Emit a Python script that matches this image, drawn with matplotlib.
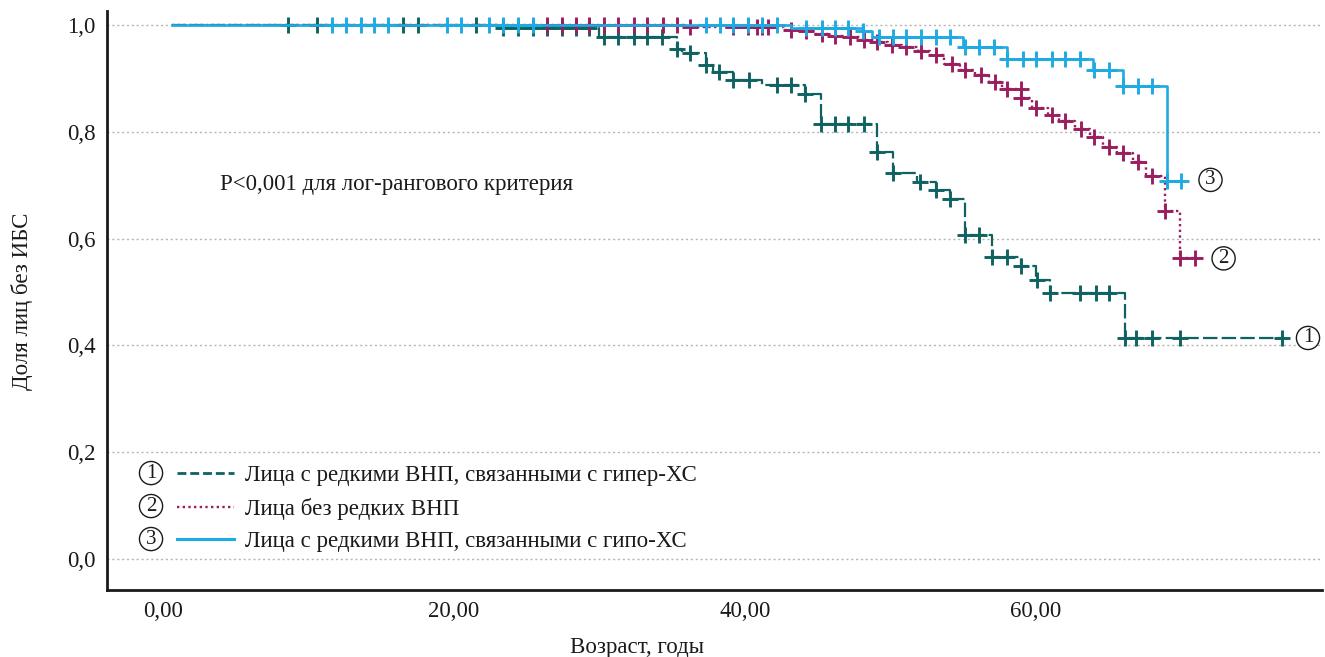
import numpy as np
import matplotlib
matplotlib.use('Agg')
import matplotlib.pyplot as plt
from matplotlib.ticker import FixedLocator, FuncFormatter
from matplotlib.lines import Line2D

plt.rcParams['font.family'] = ['Liberation Serif', 'DejaVu Serif']

# ---------------- data ----------------
x_ticks = [0, 20, 40, 60]
y_ticks = [0.0, 0.2, 0.4, 0.6, 0.8, 1.0]

t_start = 0.6

labels = ["Лица с редкими ВНП, связанными с гипер-ХС",
          "Лица без редких ВНП",
          "Лица с редкими ВНП, связанными с гипо-ХС"]
annotation = "P<0,001 для лог-рангового критерия"
x_label = "Возраст, годы"
y_label = "Доля лиц без ИБС"

# 1: hyper-XC (green, dashed)
hyper_step_t = [23.0, 30.0, 35.3, 35.7, 37.3, 37.8, 39.2, 41.2, 44.1, 45.2,
                49.1, 50.2, 51.8, 53.1, 54.1, 55.1, 57.0, 59.0, 60.0, 61.0, 66.1]
hyper_step_s = [0.994, 0.978, 0.956, 0.947, 0.925, 0.912, 0.897, 0.888, 0.870, 0.814,
                0.763, 0.722, 0.706, 0.691, 0.675, 0.607, 0.566, 0.548, 0.522, 0.499, 0.413]
hyper_cens_t = [8.6, 10.6, 16.5, 17.5, 21.5, 23.4, 24.4, 25.4, 26.4, 27.4, 28.4, 29.3,
                30.3, 31.3, 32.4, 33.3, 34.3, 35.3, 36.2, 37.3, 38.2, 39.2, 40.3, 42.2,
                43.2, 44.1, 45.2, 46.2, 47.1, 48.2, 49.1, 50.2, 52.0, 53.1, 54.1, 55.1,
                56.1, 57.0, 58.0, 59.0, 60.1, 61.0, 63.0, 64.1, 65.0, 66.1, 66.9, 68.0,
                69.9, 76.9]
hyper_end = 77.0

# 2: no rare variants (purple, dotted)
none_step_t = [35.9, 42.7, 43.8, 44.8, 45.8, 46.9, 47.9, 48.9, 49.8, 50.8, 51.9, 52.7,
               53.7, 54.8, 55.8, 56.8, 57.7, 58.97, 59.7, 60.8, 61.6, 62.7, 63.7, 64.6,
               65.6, 66.7, 67.6, 68.9, 69.9]
none_step_s = [0.997, 0.991, 0.988, 0.983, 0.979, 0.977, 0.972, 0.969, 0.963, 0.958,
               0.952, 0.944, 0.927, 0.916, 0.906, 0.894, 0.881, 0.864, 0.844, 0.832,
               0.820, 0.806, 0.791, 0.772, 0.761, 0.744, 0.718, 0.652, 0.563]
none_cens_t = [26.4, 27.4, 28.4, 29.3, 30.3, 31.3, 32.4, 33.3, 34.4, 35.3,
               36.2, 39.2, 40.2, 40.8, 41.2, 41.6, 43.2, 44.2, 45.3, 46.2, 47.2, 48.2,
               49.1, 50.1, 51.1, 52.1, 53.1, 54.2, 55.1, 56.2, 57.2, 58.0, 58.95, 59.0,
               60.0, 61.1, 62.0, 63.1, 64.0, 65.0, 66.0, 67.0, 68.0, 68.9, 69.9, 70.9]
none_end = 70.9

# 3: hypo-XC (blue, solid)
hypo_step_t = [43.2, 48.1, 48.7, 55.0, 58.0, 63.9, 66.0, 69.0]
hypo_step_s = [0.994, 0.988, 0.978, 0.958, 0.936, 0.916, 0.886, 0.708]
hypo_cens_t = [11.6, 12.6, 13.6, 14.5, 15.5, 19.5, 20.5, 22.4, 23.4, 24.4, 25.4,
               37.3, 38.3, 39.2, 40.2, 41.2, 42.2, 44.2, 45.3, 46.2, 47.1, 48.1,
               49.2, 50.2, 51.1, 52.1, 53.1, 54.1, 55.1, 56.1, 57.1, 58.0, 59.1,
               60.0, 61.1, 62.0, 63.0, 64.0, 65.0, 66.0, 67.0, 68.0, 69.0, 70.0]
hypo_end = 70.0

# end-of-curve label positions (data coords)
end_label_t = [78.7, 72.9, 72.0]
end_label_s = [0.414, 0.563, 0.710]

# ---------------- styles ----------------
c_green = '#0e6361'
c_purple = '#9b1f5e'
c_blue = '#1eaae2'
c_text = '#1a1a1a'
fs = 16.5


def curve(step_t, step_s, end):
    t = np.r_[t_start, step_t, end]
    s = np.r_[1.0, step_s, step_s[-1]]
    return t, s


def cens_s(step_t, step_s, cens):
    idx = np.searchsorted(np.asarray(step_t), np.asarray(cens), side='right')
    s_all = np.r_[1.0, step_s]
    return s_all[idx]


fig = plt.figure(figsize=(13.25, 6.57), dpi=100)
ax = fig.add_axes([0.0805, 0.102, 0.9172, 0.881])

ax.set_xlim(-3.87, 79.66)
ax.set_ylim(-0.058, 1.026)

series = [
    (hyper_step_t, hyper_step_s, hyper_cens_t, hyper_end, c_green, (0, (6.5, 1.9)), 1.6, 3),
    (none_step_t, none_step_s, none_cens_t, none_end, c_purple, (0, (1.0, 1.4)), 1.7, 4),
    (hypo_step_t, hypo_step_s, hypo_cens_t, hypo_end, c_blue, '-', 1.9, 5),
]
for st, ss, ct, end, col, ls, lw, z in series:
    t, s = curve(st, ss, end)
    ax.plot(t, s, drawstyle='steps-post', color=col, linestyle=ls, lw=lw, zorder=z)
    ax.plot(ct, cens_s(st, ss, ct), linestyle='none', marker='+', ms=11,
            mew=2.1, color=col, zorder=z + 0.5)

# grid
ax.yaxis.set_major_locator(FixedLocator(y_ticks))
ax.xaxis.set_major_locator(FixedLocator(x_ticks))
ax.yaxis.set_major_formatter(FuncFormatter(lambda v, p: f"{v:.1f}".replace('.', ',')))
ax.xaxis.set_major_formatter(FuncFormatter(lambda v, p: f"{v:.2f}".replace('.', ',')))
ax.grid(axis='y', color='#b5b5b5', linestyle=(0, (1.5, 2.0)), lw=1.0, zorder=0)
ax.set_axisbelow(True)

for sp in ['top', 'right']:
    ax.spines[sp].set_visible(False)
for sp in ['left', 'bottom']:
    ax.spines[sp].set_linewidth(2.0)
    ax.spines[sp].set_color(c_text)
ax.tick_params(length=0, labelsize=fs, pad=8, colors=c_text)

# axis labels
fig.text(637 / 1325, 1 - 647 / 657, x_label, ha='center', va='center', fontsize=fs,
         color=c_text)
fig.text(22 / 1325, 1 - 301 / 657, y_label, ha='center', va='center', rotation=90,
         fontsize=fs, color=c_text)

# annotation
ax.text(0.0935, 0.701, annotation, transform=ax.transAxes, ha='left', va='center',
        fontsize=fs, color=c_text)

# end-of-curve circled numbers
circ = dict(boxstyle='circle,pad=0.1', fc='white', ec=c_text, lw=1.0)
for i, (tx, sy) in enumerate(zip(end_label_t, end_label_s)):
    ax.text(tx, sy, str(i + 1), ha='center', va='center', fontsize=15, bbox=circ,
            color=c_text, zorder=7)

# legend
handles = [Line2D([], [], color=c_green, ls=(0, (3.2, 1.4)), lw=2.0),
           Line2D([], [], color=c_purple, ls=(0, (1.0, 1.4)), lw=1.7),
           Line2D([], [], color=c_blue, ls='-', lw=2.2)]
leg = ax.legend(handles, labels, loc='upper left', bbox_to_anchor=(0.058, 0.2156),
                frameon=False, fontsize=fs, handlelength=2.5, handletextpad=0.45,
                labelspacing=0.5, borderpad=0, borderaxespad=0)
for txt in leg.get_texts():
    txt.set_color(c_text)
leg_rows_y = [0.202, 0.145, 0.088]
for i, ly in enumerate(leg_rows_y):
    ax.text(0.0365, ly, str(i + 1), transform=ax.transAxes, ha='center', va='center',
            fontsize=15, bbox=circ, color=c_text)

fig.savefig('out.png', dpi=100)
